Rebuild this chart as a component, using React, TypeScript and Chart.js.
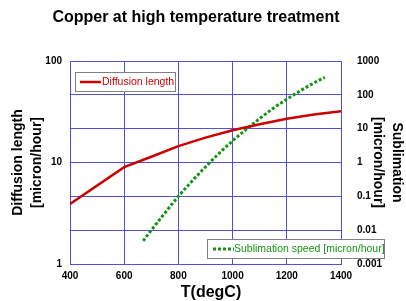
import React, { useEffect, useRef } from "react";
import { Chart, registerables } from "chart.js";

Chart.register(...registerables);

const temps = [400, 600, 700, 800, 900, 1000, 1100, 1200, 1300, 1400];
const diffusionLength = [3.9, 9.0, 11.4, 14.5, 17.6, 20.8, 23.8, 27.0, 29.7, 32.0];

const sublTemps = [670, 700, 750, 800, 850, 900, 950, 1000, 1050, 1100, 1150, 1200, 1250, 1300, 1340];
const sublimationSpeed = [0.0048, 0.01, 0.032, 0.1, 0.28, 0.74, 1.86, 4.37, 9.5, 20, 40, 74, 132, 224, 331];

const leftTicks = [1, 10, 100];
const rightTicks = [0.001, 0.01, 0.1, 1, 10, 100, 1000];
const xTicks = [400, 600, 800, 1000, 1200, 1400];

const titleText = "Copper at high temperature treatment";
const xTitle = "T(degC)";
const leftTitle = ["Diffusion length", "[micron/hour]"];
const rightTitle = ["Sublimation", "[micron/hour]"];
const legend1 = "Diffusion length";
const legend2 = "Sublimation speed [micron/hour]";

const RED = "#cc0000";
const GREEN = "#149414";
const GRID = "#5050e0";
const FONT = "Arial, 'Liberation Sans', sans-serif";

const decorPlugin = {
  id: "decor",
  afterDraw(chart: any) {
    const ctx = chart.ctx;
    const ca = chart.chartArea;
    ctx.save();
    ctx.fillStyle = "#000";
    ctx.font = `bold 16px ${FONT}`;
    ctx.textAlign = "center";
    ctx.textBaseline = "middle";
    ctx.fillText(titleText, 196, 18);
    ctx.font = `bold 16px ${FONT}`;
    ctx.fillText(xTitle, 211, 293);
    const cy = (ca.top + ca.bottom) / 2;
    ctx.font = `bold 14px ${FONT}`;
    const rot = (x: number, angle: number, text: string) => {
      ctx.save();
      ctx.translate(x, cy);
      ctx.rotate(angle);
      ctx.fillText(text, 0, 0);
      ctx.restore();
    };
    rot(18, -Math.PI / 2, leftTitle[0]);
    rot(37, -Math.PI / 2, leftTitle[1]);
    rot(397, Math.PI / 2, rightTitle[0]);
    rot(378, Math.PI / 2, rightTitle[1]);

    // legend 1
    ctx.fillStyle = "#fff";
    ctx.fillRect(75.5, 72.5, 100, 19);
    ctx.strokeStyle = "#808080";
    ctx.lineWidth = 1;
    ctx.strokeRect(75.5, 72.5, 100, 19);
    ctx.strokeStyle = RED;
    ctx.lineWidth = 2.5;
    ctx.beginPath();
    ctx.moveTo(80, 82);
    ctx.lineTo(101, 82);
    ctx.stroke();
    ctx.fillStyle = RED;
    ctx.font = `10.5px ${FONT}`;
    ctx.textAlign = "left";
    ctx.fillText(legend1, 102, 82.5);

    // legend 2
    ctx.fillStyle = "#fff";
    ctx.fillRect(207.5, 239.5, 177, 19);
    ctx.strokeStyle = "#808080";
    ctx.lineWidth = 1;
    ctx.strokeRect(207.5, 239.5, 177, 19);
    ctx.strokeStyle = GREEN;
    ctx.lineWidth = 3;
    ctx.setLineDash([3, 2]);
    ctx.beginPath();
    ctx.moveTo(213, 249);
    ctx.lineTo(234, 249);
    ctx.stroke();
    ctx.setLineDash([]);
    ctx.fillStyle = GREEN;
    ctx.fillText(legend2, 234, 249.5);
    ctx.restore();
  },
};

export default function App() {
  const ref = useRef<HTMLCanvasElement>(null);
  useEffect(() => {
    if (!ref.current) return;
    const tickFont = { family: FONT, size: 10, weight: "bold" as const };
    const chart = new Chart(ref.current, {
      type: "line",
      data: {
        datasets: [
          {
            label: legend1,
            data: temps.map((t, i) => ({ x: t, y: diffusionLength[i] })),
            borderColor: RED,
            backgroundColor: RED,
            borderWidth: 2.5,
            pointRadius: 0,
            tension: 0,
            yAxisID: "y",
          },
          {
            label: legend2,
            data: sublTemps.map((t, i) => ({ x: t, y: sublimationSpeed[i] })),
            borderColor: GREEN,
            backgroundColor: GREEN,
            borderWidth: 3,
            borderDash: [3, 2],
            pointRadius: 0,
            cubicInterpolationMode: "monotone",
            yAxisID: "y2",
          },
        ],
      },
      options: {
        responsive: false,
        animation: false,
        layout: { padding: { top: 61, left: 0, right: 0, bottom: 0 } },
        plugins: { legend: { display: false }, title: { display: false }, tooltip: { enabled: false } },
        scales: {
          x: {
            type: "linear",
            min: 400,
            max: 1400,
            afterBuildTicks: (s: any) => { s.ticks = xTicks.map((v) => ({ value: v })); },
            afterFit: (s: any) => { s.height = 37; },
            grid: { color: GRID, lineWidth: 1, drawTicks: false },
            border: { color: GRID },
            ticks: { color: "#000", font: tickFont, padding: 6, maxRotation: 0, callback: (v: any) => String(v) },
          },
          y: {
            type: "logarithmic",
            position: "left",
            min: 1,
            max: 100,
            afterBuildTicks: (s: any) => { s.ticks = leftTicks.map((v) => ({ value: v })); },
            afterFit: (s: any) => { s.width = 70; },
            grid: { display: false, drawTicks: false },
            border: { color: GRID },
            ticks: { color: "#000", font: tickFont, padding: 8, callback: (v: any) => String(v) },
          },
          y2: {
            type: "logarithmic",
            position: "right",
            min: 0.001,
            max: 1000,
            afterBuildTicks: (s: any) => { s.ticks = rightTicks.map((v) => ({ value: v })); },
            afterFit: (s: any) => { s.width = 65; },
            grid: { color: GRID, lineWidth: 1, drawTicks: false },
            border: { color: GRID },
            ticks: { color: "#000", font: tickFont, padding: 16, callback: (v: any) => String(v) },
          },
        },
      },
      plugins: [decorPlugin],
    });
    return () => chart.destroy();
  }, []);
  return (
    <div style={{ position: "fixed", left: 0, top: 0, width: 406, height: 301, background: "#fff" }}>
      <canvas ref={ref} width={406} height={301} style={{ width: 406, height: 301 }} />
    </div>
  );
}
